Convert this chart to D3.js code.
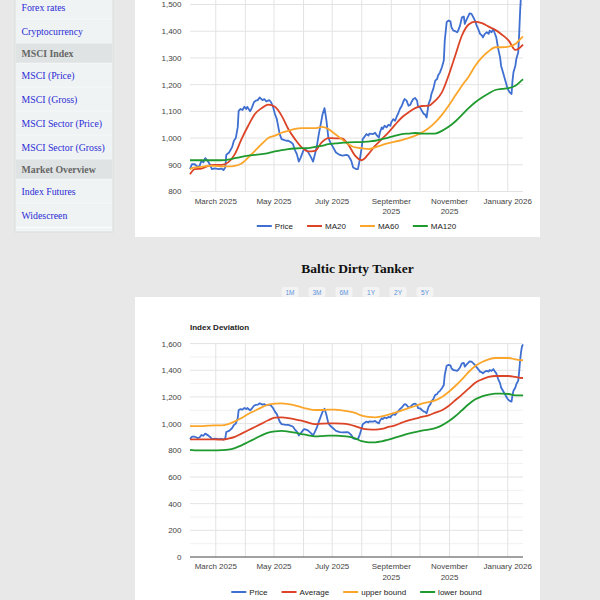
<!DOCTYPE html>
<html>
<head>
<meta charset="utf-8">
<script src="https://cdn.jsdelivr.net/npm/d3@7"></script>
<style>
  html, body { margin:0; padding:0; background:#e8e8e8; width:600px; height:600px; overflow:hidden; }
  svg { display:block; }
  .sans { font-family: "Liberation Sans", Arial, Helvetica, sans-serif; }
  .serif { font-family: "Liberation Serif", "Times New Roman", serif; }
</style>
</head>
<body>
<svg id="page" width="600" height="600"></svg>
<script>
// ---------------- DATA ----------------
const sidebarItems = ["Forex rates","Cryptocurrency","MSCI Index","MSCI (Price)","MSCI (Gross)","MSCI Sector (Price)","MSCI Sector (Gross)","Market Overview","Index Futures","Widescreen"];
const sidebarHeaders = ["MSCI Index","Market Overview"];

const pageTitle = "Baltic Dirty Tanker";
const rangeButtons = ["1M","3M","6M","1Y","2Y","5Y"];
const chart2Title = "Index Deviation";

const xTickDates = ["2025-03-01","2025-05-01","2025-07-01","2025-09-01","2025-11-01","2026-01-01"];
const xTickLabels = ["March 2025","May 2025","July 2025","September 2025","November 2025","January 2026"];
const y1Ticks = [800,900,1000,1100,1200,1300,1400,1500,1600];
const y2Ticks = [0,200,400,600,800,1000,1200,1400,1600];
const y2Minor = [100,300,500,700,900,1100,1300,1500];

const priceDates = [
"2025-02-02","2025-02-04","2025-02-07","2025-02-10","2025-02-12","2025-02-14","2025-02-16","2025-02-18","2025-02-21","2025-02-23","2025-02-25","2025-02-28",
"2025-03-04","2025-03-07","2025-03-09","2025-03-11","2025-03-12","2025-03-15","2025-03-18","2025-03-20","2025-03-22","2025-03-24","2025-03-25","2025-03-27","2025-03-29","2025-03-31",
"2025-04-02","2025-04-03","2025-04-06","2025-04-08","2025-04-10","2025-04-12","2025-04-14","2025-04-16","2025-04-19","2025-04-21","2025-04-23","2025-04-26","2025-04-28","2025-04-30",
"2025-05-02","2025-05-04","2025-05-05","2025-05-07","2025-05-09","2025-05-12","2025-05-14","2025-05-16","2025-05-19","2025-05-21","2025-05-23","2025-05-25","2025-05-27","2025-05-29",
"2025-06-01","2025-06-02","2025-06-05","2025-06-07","2025-06-09","2025-06-11","2025-06-13","2025-06-15","2025-06-17","2025-06-19","2025-06-21","2025-06-23","2025-06-25","2025-06-27","2025-06-29",
"2025-07-02","2025-07-05","2025-07-09","2025-07-12","2025-07-16","2025-07-18","2025-07-21","2025-07-23","2025-07-26","2025-07-28","2025-07-30",
"2025-08-01","2025-08-02","2025-08-06","2025-08-08","2025-08-09","2025-08-13","2025-08-15","2025-08-17","2025-08-19","2025-08-20","2025-08-22","2025-08-23","2025-08-25","2025-08-27","2025-08-29","2025-08-31",
"2025-09-01","2025-09-03","2025-09-05","2025-09-07","2025-09-08","2025-09-10","2025-09-12","2025-09-14","2025-09-15","2025-09-17","2025-09-19","2025-09-21","2025-09-22","2025-09-24","2025-09-26","2025-09-28","2025-09-29",
"2025-10-01","2025-10-03","2025-10-05","2025-10-06","2025-10-08","2025-10-10","2025-10-12","2025-10-13","2025-10-15","2025-10-17","2025-10-19","2025-10-20","2025-10-22","2025-10-24","2025-10-26","2025-10-27","2025-10-29","2025-10-31",
"2025-11-02","2025-11-03","2025-11-05","2025-11-07","2025-11-09","2025-11-10","2025-11-12","2025-11-14","2025-11-16","2025-11-17","2025-11-19","2025-11-21","2025-11-22","2025-11-24","2025-11-26","2025-11-28","2025-11-29",
"2025-12-01","2025-12-03","2025-12-05","2025-12-06","2025-12-08","2025-12-10","2025-12-12","2025-12-13","2025-12-15","2025-12-17","2025-12-18","2025-12-20","2025-12-22","2025-12-24","2025-12-25","2025-12-27","2025-12-29","2025-12-31",
"2026-01-01","2026-01-03","2026-01-05","2026-01-06","2026-01-07","2026-01-09","2026-01-10","2026-01-12","2026-01-13","2026-01-14","2026-01-15","2026-01-16","2026-01-17"];
const priceValues = [
884,902,902,892,896,915,909,925,912,900,884,887,
884,886,880,890,937,946,965,990,1000,1040,1102,1109,1105,1117,
1109,1117,1100,1115,1134,1140,1142,1152,1142,1146,1137,1142,1134,1117,
1090,1071,1052,1015,996,992,990,990,984,977,955,940,912,927,
955,959,952,940,927,912,940,971,1015,1052,1090,1112,1065,1002,984,
965,946,937,934,937,934,915,890,884,884,920,
965,996,1015,1009,1017,1015,1020,1009,1002,1021,1040,1034,1046,1040,1050,1046,
1059,1071,1065,1084,1090,1109,1121,1140,1146,1140,1121,1125,1134,1146,1150,1140,1117,
1115,1102,1090,1090,1077,1127,1146,1165,1184,1215,1221,1234,1246,1265,1290,1365,1434,1440,
1437,1415,1402,1400,1396,1402,1421,1452,1455,1427,1444,1459,1467,1465,1452,1437,1425,
1409,1390,1384,1377,1390,1396,1390,1402,1396,1409,1396,1377,1334,1302,1271,1246,1221,1196,
1184,1171,1165,1215,1246,1271,1296,1321,1390,1477,1540,1580,1595];

const weekDates = ["2025-02-02","2025-02-07","2025-02-14","2025-02-21","2025-02-28","2025-03-07","2025-03-14","2025-03-21","2025-03-28","2025-04-04","2025-04-11","2025-04-18","2025-04-25","2025-05-02","2025-05-09","2025-05-16","2025-05-23","2025-05-30","2025-06-06","2025-06-13","2025-06-20","2025-06-27","2025-07-04","2025-07-11","2025-07-18","2025-07-25","2025-08-01","2025-08-08","2025-08-15","2025-08-22","2025-08-29","2025-09-05","2025-09-12","2025-09-19","2025-09-26","2025-10-03","2025-10-10","2025-10-17","2025-10-24","2025-10-31","2025-11-07","2025-11-14","2025-11-21","2025-11-28","2025-12-05","2025-12-12","2025-12-19","2025-12-26","2026-01-02","2026-01-09","2026-01-16","2026-01-17"];

const ma20 = [865,884,886,896,900, 900,909,940,996, 1046,1090,1112,1125, 1117,1084,1034,996,965, 950,952,984,1000, 999,999,975,934,
              917,940,971,996,1021, 1050,1077,1096,1112, 1120,1121,1140,1171,1234, 1309,1384,1425,1436, 1430,1417,1405,1387, 1365,1330,1346,1350];
const ma60 = [884,890,892,896,896, 894,894,896,905, 927,952,977,1000, 1009,1020,1027,1034,1037, 1037,1037,1042,1034, 1015,996,977,965,
              962,959,965,974,981, 987,992,1000,1009, 1021,1037,1059,1087,1121, 1159,1196,1230,1271, 1302,1325,1340,1340, 1342,1352,1377,1380];
const ma120 = [917,917,917,917,917, 917,919,925,930, 934,937,940,944, 950,955,959,961,962, 962,967,971,977, 980,982,984,985,
               985,987,990,996,1002, 1009,1015,1017,1019, 1017,1017,1017,1027,1042, 1062,1087,1112,1134, 1152,1167,1180,1184, 1187,1196,1217,1220];

const average = [882,882,882,882,882, 880,887,900,925, 950,975,1000,1025, 1045,1047,1042,1032,1022, 1007,997,1000,1002, 1002,1000,995,982,
                 965,957,955,960,975, 987,1007,1025,1037, 1050,1062,1082,1100,1132, 1175,1217,1262,1307, 1332,1350,1357,1357, 1357,1350,1342,1342];
const upperBound = [982,982,982,985,987, 987,997,1017,1042, 1072,1097,1122,1142, 1150,1152,1147,1137,1122, 1110,1102,1102,1105, 1105,1100,1092,1080,
                    1060,1050,1047,1055,1067, 1082,1100,1117,1132, 1150,1162,1175,1200,1237, 1282,1332,1387,1432, 1462,1482,1492,1492, 1492,1482,1475,1475];
const lowerBound = [803,800,799,799,799, 801,805,817,837, 862,887,912,932, 942,945,940,932,922, 912,905,907,910, 910,907,902,890,
                    868,860,860,867,880, 895,910,925,937, 947,955,967,987,1017, 1055,1100,1145,1182, 1205,1217,1225,1225, 1222,1212,1212,1214];

const chart1Series = [
  {name:"Price", dates:priceDates, values:priceValues, color:"#3f6fd1", curve:d3.curveLinear},
  {name:"MA20", dates:weekDates, values:ma20, color:"#dc4427", curve:d3.curveMonotoneX},
  {name:"MA60", dates:weekDates, values:ma60, color:"#fba62b", curve:d3.curveMonotoneX},
  {name:"MA120", dates:weekDates, values:ma120, color:"#1e9a2e", curve:d3.curveMonotoneX}
];
const chart2Series = [
  {name:"Price", dates:priceDates, values:priceValues, color:"#3f6fd1", curve:d3.curveLinear},
  {name:"Average", dates:weekDates, values:average, color:"#dc4427", curve:d3.curveMonotoneX},
  {name:"upper bound", dates:weekDates, values:upperBound, color:"#fba62b", curve:d3.curveMonotoneX},
  {name:"lower bound", dates:weekDates, values:lowerBound, color:"#1e9a2e", curve:d3.curveMonotoneX}
];

// ---------------- DRAW ----------------
const parse = d3.utcParse("%Y-%m-%d");
const svg = d3.select("#page");

// Sidebar
const sb = svg.append("g");
sb.append("rect").attr("x",15).attr("y",-10).attr("width",98).attr("height",242)
  .attr("fill","#f1f4f5").attr("stroke","#d9dcdc").attr("stroke-width",1);
let yy = -4.7;
sidebarItems.forEach(name => {
  const isHead = sidebarHeaders.includes(name);
  const h = isHead ? 20 : 24;
  sb.append("rect").attr("x",16).attr("y",yy).attr("width",96).attr("height",h)
    .attr("fill", isHead ? "#dfe3e3" : "#eff3f4");
  sb.append("line").attr("x1",16).attr("x2",112).attr("y1",yy+h).attr("y2",yy+h)
    .attr("stroke","#ffffff").attr("stroke-width",1);
  sb.append("text").attr("class","serif").attr("x",21.5).attr("y",yy+h/2+3.4)
    .attr("font-size", "9.8px")
    .attr("font-weight", isHead ? "bold" : "normal")
    .attr("fill", isHead ? "#666666" : "#2b2bd4")
    .text(name);
  yy += h;
});

// Panels
svg.append("rect").attr("x",135).attr("y",-10).attr("width",405).attr("height",247).attr("fill","#ffffff");
svg.append("rect").attr("x",135).attr("y",297).attr("width",405).attr("height",320).attr("fill","#ffffff");

// Title + buttons
svg.append("text").attr("class","serif").attr("x",357.5).attr("y",272.5).attr("text-anchor","middle")
  .attr("font-size","13.5px").attr("font-weight","bold").attr("fill","#111").text(pageTitle);
const bx = d3.scalePoint().domain(rangeButtons).range([290,425]);
rangeButtons.forEach(b => {
  svg.append("rect").attr("x",bx(b)-8.5).attr("y",287).attr("width",17).attr("height",10).attr("rx",2.5)
    .attr("fill","#f3f3f3");
  svg.append("text").attr("class","sans").attr("x",bx(b)).attr("y",294.5).attr("text-anchor","middle")
    .attr("font-size","6.5px").attr("fill","#5d93dc").text(b);
});

// Scales
const x = d3.scaleUtc().domain([parse("2025-02-02"), parse("2026-01-17")]).range([190,523]);
const y1 = d3.scaleLinear().domain([800,1600]).range([191.5, 191.5 - 800*0.26714]);
const y2 = d3.scaleLinear().domain([0,1600]).range([557, 343.6]);
const months = d3.utcMonth.range(parse("2025-03-01"), parse("2026-01-18"));

function drawChart(g, y, yTicks, yMinor, series, legendY, baseline) {
  const [xl, xr] = x.range();
  if (yMinor) g.selectAll(".hmin").data(yMinor).join("line")
    .attr("x1",xl).attr("x2",xr).attr("y1",d=>y(d)).attr("y2",d=>y(d))
    .attr("stroke","#f1f1f1").attr("stroke-width",1);
  g.selectAll(".vg").data(months).join("line")
    .attr("x1",d=>x(d)).attr("x2",d=>x(d)).attr("y1",y.range()[1]).attr("y2",y.range()[0])
    .attr("stroke","#e3e3e3").attr("stroke-width",1);
  g.selectAll(".hg").data(yTicks).join("line")
    .attr("x1",xl).attr("x2",xr).attr("y1",d=>y(d)).attr("y2",d=>y(d))
    .attr("stroke", d => (baseline && d===0) ? "#444444" : "#e3e3e3").attr("stroke-width",1);
  // y labels (only those inside the visible window)
  g.selectAll(".yl").data(yTicks.filter(d => y(d) > 2)).join("text").attr("class","sans")
    .attr("x",181.5).attr("y",d=>y(d)+2.9).attr("text-anchor","end")
    .attr("font-size","8px").attr("fill","#444").text(d=>d3.format(",")(d));
  xTickDates.forEach((ds,i) => {
    const label = xTickLabels[i];
    const t = g.append("text").attr("class","sans").attr("text-anchor","middle")
      .attr("font-size","8px").attr("fill","#444");
    const cx = x(parse(ds)), by = y.range()[0] + 12;
    t.text(label);
    if (t.node().getComputedTextLength() > 52) {
      const parts = label.split(" ");
      t.text(null);
      t.append("tspan").attr("x",cx).attr("y",by).text(parts[0]);
      t.append("tspan").attr("x",cx).attr("y",by+10.5).text(parts[1]);
    } else {
      t.attr("x",cx).attr("y",by);
    }
  });
  series.forEach(s => {
    const pts = s.dates.map((d,i)=>({d:parse(d), v:s.values[i]}));
    g.append("path").datum(pts)
      .attr("fill","none").attr("stroke",s.color).attr("stroke-width",1.8)
      .attr("stroke-linejoin","round")
      .attr("d", d3.line().x(p=>x(p.d)).y(p=>y(p.v)).curve(s.curve));
  });
  const lg = g.append("g");
  let cur = 0;
  series.forEach((s,i) => {
    const it = lg.append("g").attr("transform",`translate(${cur},0)`);
    it.append("line").attr("x1",0).attr("x2",15).attr("y1",0).attr("y2",0)
      .attr("stroke",s.color).attr("stroke-width",2);
    const tx = it.append("text").attr("class","sans").attr("x",18).attr("y",2.9)
      .attr("font-size","8px").attr("fill","#222").text(s.name);
    cur += 18 + tx.node().getComputedTextLength() + 14;
  });
  const total = cur - 14;
  lg.attr("transform",`translate(${(xl+xr)/2 - total/2},${legendY})`);
}

const g1 = svg.append("g");
drawChart(g1, y1, y1Ticks, null, chart1Series, 226, false);

const g2 = svg.append("g");
g2.append("text").attr("class","sans").attr("x",190).attr("y",329.5)
  .attr("font-size","8px").attr("font-weight","bold").attr("fill","#222").text(chart2Title);
drawChart(g2, y2, y2Ticks, y2Minor, chart2Series, 592, true);
</script>
</body>
</html>
